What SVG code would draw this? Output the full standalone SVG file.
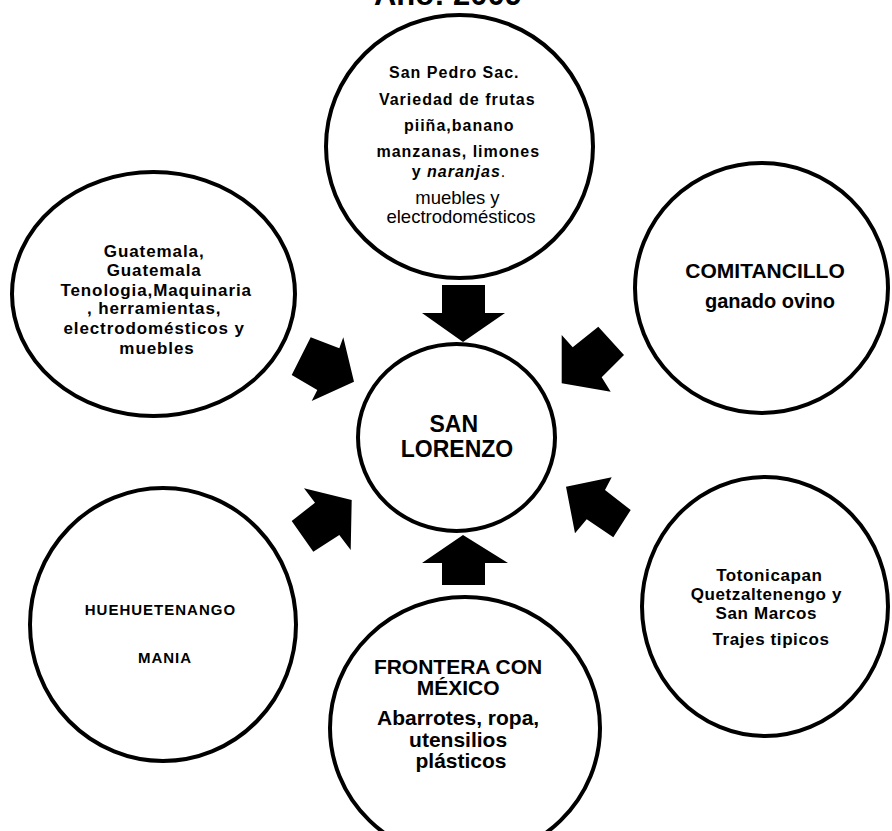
<svg xmlns="http://www.w3.org/2000/svg" width="892" height="831" viewBox="0 0 892 831">
<style>
.c{fill:#fff;stroke:#000;stroke-width:4}
.t{font-family:"Liberation Sans",Arial,sans-serif;fill:#000;text-anchor:middle}
.b{font-weight:bold}
.a{fill:#000;stroke:none}
</style>
<rect width="892" height="831" fill="#fff"/>
<text class="t b" x="448" y="5" font-size="31">Año: 2009</text>

<g id="node-sanpedro">
<ellipse class="c" cx="459.5" cy="146.5" rx="133.5" ry="131.5"/>
<text class="t b" font-size="16" letter-spacing="1">
<tspan x="457" y="78">San Pedro Sac.</tspan>
<tspan x="460" y="105">Variedad de frutas</tspan>
<tspan x="462" y="131">piiña,banano</tspan>
<tspan x="461" y="157">manzanas, limones</tspan>
<tspan x="459" y="177">y <tspan font-style="italic">naranjas</tspan><tspan font-weight="normal">.</tspan></tspan>
</text>
<text class="t" font-size="18.5">
<tspan x="460" y="204">muebles y</tspan>
<tspan x="461" y="223">electrodomésticos</tspan>
</text>
</g>

<g id="node-guatemala">
<ellipse class="c" cx="153.5" cy="294" rx="141.5" ry="122"/>
<text class="t b" font-size="17" letter-spacing="0.9">
<tspan x="157" y="257">Guatemala,</tspan>
<tspan x="157" y="276">Guatemala</tspan>
<tspan x="159" y="296">Tenologia,Maquinaria</tspan>
<tspan x="157" y="314">, herramientas,</tspan>
<tspan x="157" y="334">electrodomésticos y</tspan>
<tspan x="157" y="354">muebles</tspan>
</text>
</g>

<g id="node-comitancillo">
<ellipse class="c" cx="761.5" cy="288" rx="126.5" ry="125"/>
<text class="t b" font-size="21">
<tspan x="768" y="278">COMITANCILLO</tspan>
<tspan x="770" y="308" font-size="20">ganado ovino</tspan>
</text>
</g>

<g id="node-sanlorenzo">
<ellipse class="c" cx="456.5" cy="437.5" rx="98.5" ry="93.5"/>
<text class="t b" font-size="23">
<tspan x="457" y="432">SAN</tspan>
<tspan x="457" y="457">LORENZO</tspan>
</text>
</g>

<g id="node-huehuetenango">
<ellipse class="c" cx="163" cy="624.5" rx="133" ry="136.5"/>
<text class="t b" font-size="15" letter-spacing="1">
<tspan x="163" y="615">HUEHUETENANGO</tspan>
<tspan x="165" y="663">MANIA</tspan>
</text>
</g>

<g id="node-totonicapan">
<ellipse class="c" cx="765" cy="606.5" rx="123" ry="129.5"/>
<text class="t b" font-size="17" letter-spacing="0.6">
<tspan x="772" y="581">Totonicapan</tspan>
<tspan x="769" y="600">Quetzaltenengo y</tspan>
<tspan x="769" y="619">San Marcos</tspan>
<tspan x="771" y="645">Trajes tipicos</tspan>
</text>
</g>

<g id="node-frontera">
<ellipse class="c" cx="465" cy="728" rx="135" ry="131"/>
<text class="t b" font-size="21">
<tspan x="461" y="674">FRONTERA CON</tspan>
<tspan x="461" y="695">MÉXICO</tspan>
<tspan x="461" y="725">Abarrotes, ropa,</tspan>
<tspan x="461" y="747">utensilios</tspan>
<tspan x="461" y="768">plásticos</tspan>
</text>
</g>

<g id="connectors">
<polygon class="a" points="442,285 485,285 485,313 505,313 463,342 422,313 442,313"/>
<polygon class="a" points="442,585 485,585 485,563 508,563 463,535 422,563 442,563"/>
<polygon class="a" points="310.7,337.3 339.3,348.3 343.3,337.3 354,381.7 311.7,401 317.3,390 291.7,375"/>
<polygon class="a" points="304,488.3 315,502.7 291.7,521 313.3,551.7 339.3,535 350.7,550 351.7,500"/>
<polygon class="a" points="561.7,335 572.7,347.3 598.3,326.7 624,355 601.7,377.3 610.7,391.7 561.7,383.3"/>
<polygon class="a" points="566,486.7 611.7,477.3 605,490 630.7,510 613.3,537.3 586.7,519.3 575,533.3"/>
</g>
</svg>
